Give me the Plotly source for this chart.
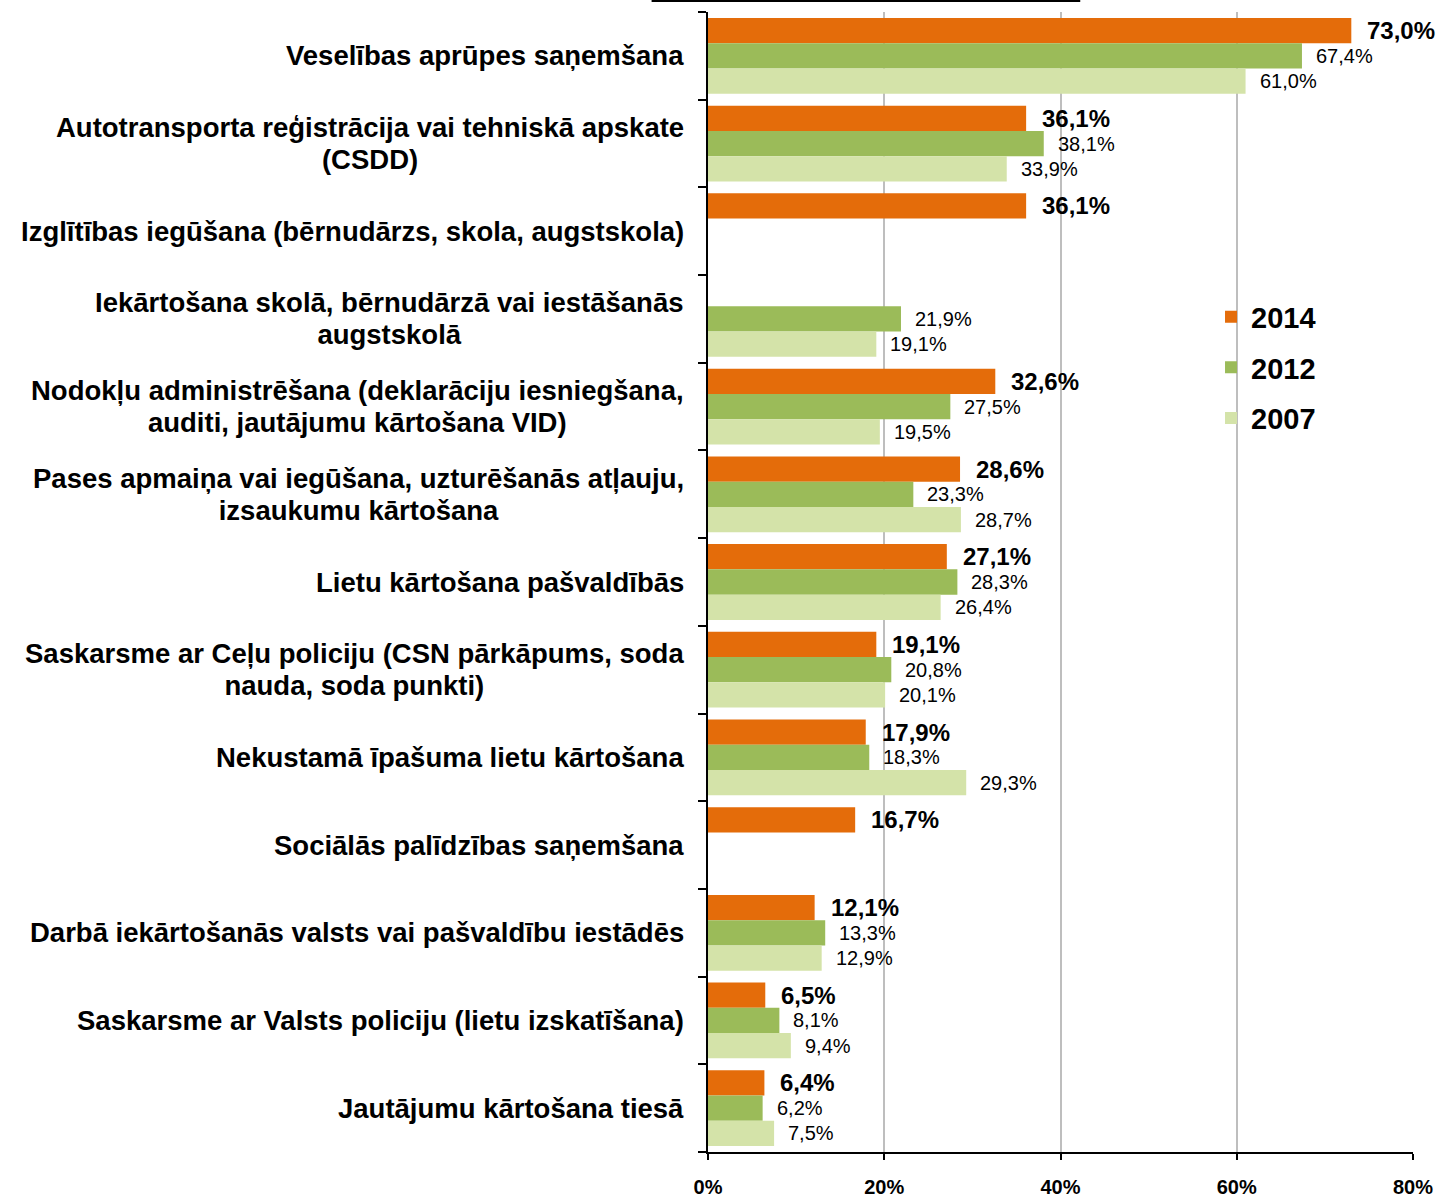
import plotly.graph_objects as go

categories = [
    "Veselības aprūpes saņemšana",
    "Autotransporta reģistrācija vai tehniskā apskate\n(CSDD)",
    "Izglītības iegūšana (bērnudārzs, skola, augstskola)",
    "Iekārtošana skolā, bērnudārzā vai iestāšanās\naugstskolā",
    "Nodokļu administrēšana (deklarāciju iesniegšana,\nauditi, jautājumu kārtošana VID)",
    "Pases apmaiņa vai iegūšana, uzturēšanās atļauju,\nizsaukumu kārtošana",
    "Lietu kārtošana pašvaldībās",
    "Saskarsme ar Ceļu policiju (CSN pārkāpums, soda\nnauda, soda punkti)",
    "Nekustamā īpašuma lietu kārtošana",
    "Sociālās palīdzības saņemšana",
    "Darbā iekārtošanās valsts vai pašvaldību iestādēs",
    "Saskarsme ar Valsts policiju (lietu izskatīšana)",
    "Jautājumu kārtošana tiesā",
]
series_names = ["2014", "2012", "2007"]
values_2014 = [73.0, 36.1, 36.1, None, 32.6, 28.6, 27.1, 19.1, 17.9, 16.7, 12.1, 6.5, 6.4]
values_2012 = [67.4, 38.1, None, 21.9, 27.5, 23.3, 28.3, 20.8, 18.3, None, 13.3, 8.1, 6.2]
values_2007 = [61.0, 33.9, None, 19.1, 19.5, 28.7, 26.4, 20.1, 29.3, None, 12.9, 9.4, 7.5]
x_ticks = [0, 20, 40, 60, 80]
x_tick_labels = ["0%", "20%", "40%", "60%", "80%"]

colors = ["#E46C0A", "#9BBB59", "#D4E3A9"]
FONT = "Liberation Sans, Arial, sans-serif"
BARGAP = 0.136

series = [values_2014, values_2012, values_2007]
idx = list(range(len(categories)))

fig = go.Figure()
for k, (name, vals, col) in enumerate(zip(series_names, series, colors)):
    fig.add_trace(go.Bar(
        y=idx, x=vals, name=name, orientation="h",
        marker=dict(color=col, line=dict(width=0)),
        legendgroup=name, hoverinfo="skip",
    ))

annotations = []
w = (1 - BARGAP) / 3
for k, vals in enumerate(series):
    for i, v in enumerate(vals):
        if v is None:
            continue
        bold = (k == 0)
        annotations.append(dict(
            x=v, y=i + (k - 1) * w, xref="x", yref="y",
            text=f"{v:.1f}%".replace(".", ","),
            showarrow=False, xanchor="left", yanchor="middle",
            xshift=14 if bold else 12,
            font=dict(family=FONT, size=24 if bold else 20, color="black",
                      weight="bold" if bold else "normal"),
        ))

for i, cat in enumerate(categories):
    lines = cat.split("\n")
    txt = "<br>".join(f'<span style="font-size:27.5px">{ln}</span>' for ln in lines)
    annotations.append(dict(
        x=0, y=i, xref="paper", yref="y", text=txt, showarrow=False,
        xanchor="right", yanchor="middle", align="center", xshift=-22,
        font=dict(family=FONT, size=24.6, color="black", weight="bold"),
    ))

fig.update_layout(
    width=1441, height=1200,
    margin=dict(l=708, r=28, t=12, b=48),
    paper_bgcolor="white", plot_bgcolor="white",
    barmode="group", bargap=BARGAP, bargroupgap=0,
    annotations=annotations,
    showlegend=True,
    legend=dict(
        x=0.7135, y=0.755, xanchor="left", yanchor="top",
        font=dict(family=FONT, size=29, color="black", weight="bold"),
        tracegroupgap=10, traceorder="grouped",
        bgcolor="rgba(0,0,0,0)", itemwidth=30,
    ),
    xaxis=dict(
        range=[0, 80], tickvals=x_ticks, ticktext=x_tick_labels,
        showgrid=True, gridcolor="#BEBEBE", gridwidth=2,
        showline=True, linecolor="black", linewidth=2,
        ticks="outside", ticklen=6, tickcolor="black", tickwidth=2,
        tickfont=dict(family=FONT, size=20, color="black", weight="bold"),
        ticklabelstandoff=10, zeroline=False, fixedrange=True,
        automargin=False,
    ),
    yaxis=dict(
        type="linear", range=[12.5, -0.5],
        tickvals=[i + 0.5 for i in range(-1, len(categories))],
        showticklabels=False, showgrid=False, zeroline=False,
        showline=True, linecolor="black", linewidth=2,
        ticks="outside", ticklen=8, tickcolor="black", tickwidth=2,
        fixedrange=True, automargin=False,
    ),
    shapes=[dict(type="line", xref="paper", yref="paper",
                 x0=-0.08, x1=0.528, y0=1 + 11 / 1140, y1=1 + 11 / 1140,
                 line=dict(color="black", width=2))],
)

fig.write_html(
    "out.html",
    config={"displayModeBar": False},
    post_script="document.body.style.margin='0';document.body.style.overflow='hidden';",
)
